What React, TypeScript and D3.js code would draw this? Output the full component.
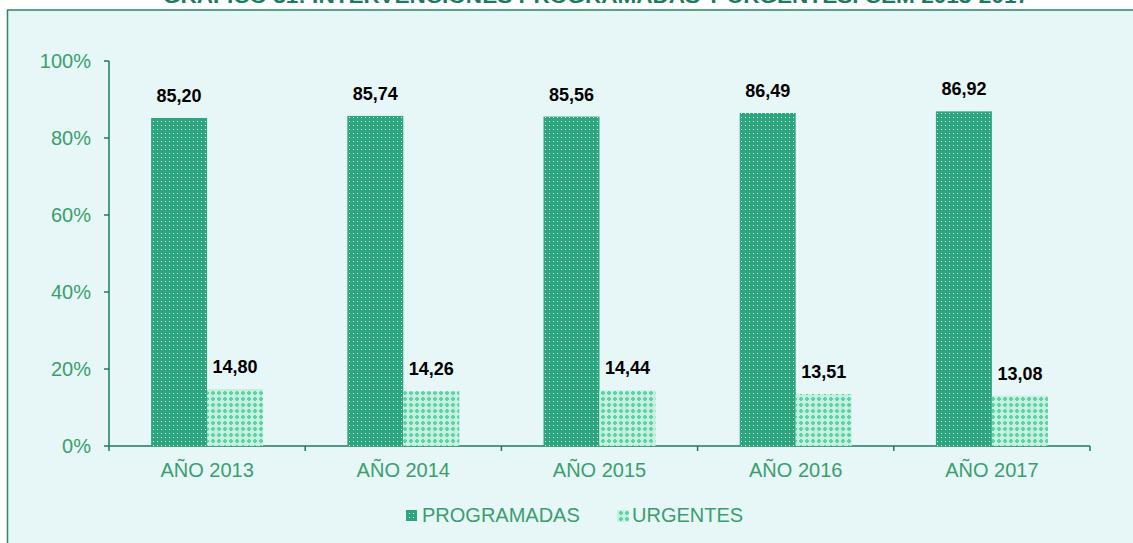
import React from "react";
import * as d3 from "d3";

const categories = ["AÑO 2013", "AÑO 2014", "AÑO 2015", "AÑO 2016", "AÑO 2017"];
const programadas = [85.2, 85.74, 85.56, 86.49, 86.92];
const urgentes = [14.8, 14.26, 14.44, 13.51, 13.08];
const seriesNames = ["PROGRAMADAS", "URGENTES"];
const yTicks = [0, 20, 40, 60, 80, 100];
const title = "GRÁFICO 31: INTERVENCIONES PROGRAMADAS Y URGENTES. CEM 2013-2017";

const W = 1133, H = 543;
const axisColor = "#1E7A5E";
const tickText = "#3A9E6E";
const font = "'Liberation Sans', Arial, sans-serif";

export default function App() {
  const x = d3.scaleBand<string>().domain(categories).range([109, 1090]);
  const y = d3.scaleLinear().domain([0, 100]).range([446, 61]);
  const bw = 56;
  const fmt = (v: number) => v.toFixed(2).replace(".", ",");
  const series = [programadas, urgentes];
  const fills = ["url(#pDots)", "url(#pCross)"];
  return (
    <svg width={W} height={H} style={{ position: "absolute", left: 0, top: 0 }} fontFamily={font}>
      <defs>
        <pattern id="pDots" width="4" height="4" patternUnits="userSpaceOnUse">
          <rect width="4" height="4" fill="#2BA67E" />
          <rect x="1" y="1" width="1" height="1" fill="#E8F8F0" />
        </pattern>
        <pattern id="pCross" width="6" height="6" patternUnits="userSpaceOnUse">
          <rect width="6" height="6" fill="#C4F0E0" />
          <rect x="2" y="1" width="2" height="4" fill="#5FD0A8" />
          <rect x="1" y="2" width="4" height="2" fill="#5FD0A8" />
        </pattern>
      </defs>
      <rect x={0} y={0} width={W} height={H} fill="#ffffff" />
      <text x={596} y={3} textAnchor="middle" fontWeight="bold" fontSize={21} fill={axisColor} textLength={866} lengthAdjust="spacingAndGlyphs">{title}</text>
      <rect x={7.5} y={10} width={W + 10} height={H + 10} fill="#E7F7F7" stroke="#2A8769" strokeWidth={1.5} />
      {/* y axis */}
      <line x1={109} x2={109} y1={y(100)} y2={y(0)} stroke={axisColor} strokeWidth={1.5} />
      {yTicks.map((t) => (
        <g key={t}>
          <line x1={104} x2={109} y1={y(t)} y2={y(t)} stroke={axisColor} strokeWidth={1.5} />
          <text x={91} y={y(t)} dy="0.35em" textAnchor="end" fontSize={20} fill={tickText}>{t}%</text>
        </g>
      ))}
      {/* x axis */}
      <line x1={109} x2={1090} y1={y(0)} y2={y(0)} stroke={axisColor} strokeWidth={1.5} />
      {categories.map((c, i) => (
        <line key={"t" + i} x1={(x(c) as number) + x.bandwidth()} x2={(x(c) as number) + x.bandwidth()} y1={y(0)} y2={y(0) + 5} stroke={axisColor} strokeWidth={1.5} />
      ))}
      <line x1={109} x2={109} y1={y(0)} y2={y(0) + 5} stroke={axisColor} strokeWidth={1.5} />
      {categories.map((c) => (
        <text key={"l" + c} x={(x(c) as number) + x.bandwidth() / 2} y={477} textAnchor="middle" fontSize={20} fill={tickText}>{c}</text>
      ))}
      {series.map((vals, si) =>
        categories.map((c, i) => {
          const cx = (x(c) as number) + x.bandwidth() / 2;
          const bx = cx - bw + si * bw;
          return (
            <g key={si + "-" + i}>
              <rect x={bx} y={y(vals[i])} width={bw} height={y(0) - y(vals[i])} fill={fills[si]} />
              <text x={bx + bw / 2} y={y(vals[i]) - 16} textAnchor="middle" fontWeight="bold" fontSize={18} fill="#000">{fmt(vals[i])}</text>
            </g>
          );
        })
      )}
      {/* legend */}
      <rect x={406} y={510} width={11} height={11} fill={fills[0]} />
      <text x={422} y={522} fontSize={20} fill={tickText}>{seriesNames[0]}</text>
      <rect x={617} y={510} width={12} height={12} fill={fills[1]} />
      <text x={632} y={522} fontSize={20} fill={tickText}>{seriesNames[1]}</text>
    </svg>
  );
}
